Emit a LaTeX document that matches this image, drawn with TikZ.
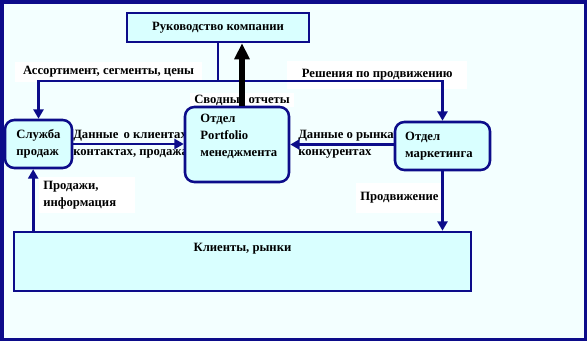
\documentclass[tikz,border=0pt]{standalone}
\usepackage{fontspec}
\setmainfont{Liberation Serif}
\usepackage{xcolor}
\usepackage{tikz}
\usetikzlibrary{positioning, arrows.meta}
\definecolor{framenavy}{HTML}{0C0C8A}
\definecolor{boxcyan}{HTML}{D9FFFF}
\definecolor{pagecyan}{HTML}{F3FFFF}

\begin{document}
\begin{tikzpicture}[x=0.75pt, y=-0.75pt,
    every node/.style={font=\fontsize{9.5}{12.5}\selectfont\bfseries},
    unitbox/.style={draw=framenavy, fill=boxcyan, line width=1.9pt, inner sep=0pt},
    roundbox/.style={unitbox, rounded corners=7pt},
    flow/.style={draw=framenavy, line width=2.2pt, -{Triangle[length=7pt, width=7.5pt]}},
    report/.style={draw=black, line width=3.8pt, -{Triangle[length=12pt, width=11pt]}},
    flowlabel/.style={fill=white, inner xsep=3pt, inner ysep=3pt, align=left, anchor=west}]
  \useasboundingbox (0,0) rectangle (588,342);
  \draw[framenavy, fill=pagecyan, line width=2.6pt] (2,2) rectangle (585.5,339.5);

  % labels
  \node[flowlabel, minimum width=140pt] (lblrange) at (15,72) {Ассортимент, сегменты, цены};
  \node[flowlabel, minimum width=135pt, minimum height=21pt] (lblpromo) at (287,75) {Решения по продвижению};
  \node[flowlabel, inner ysep=1pt] (lblreport) at (190,100) {Сводные отчеты};
  \node[anchor=west, align=left, inner sep=0pt] (lblclient) at (73,144.5) {Данные\, о клиентах,\\контактах, продажах};
  \node[anchor=west, align=left, inner sep=0pt] (lblmarket) at (298,144.5) {Данные о рынках,\\конкурентах};
  \node[flowlabel, minimum height=26pt, text width=66pt] (lblsold) at (39,195) {Продажи,\\информация};
  \node[flowlabel, minimum height=22pt] (lblpush) at (356,198) {Продвижение};

  % units
  \node[unitbox, minimum width=136.5pt, minimum height=21.75pt] (board) at (218,27.5)
    {Руководство компании};
  \node[roundbox, minimum width=50.25pt, minimum height=36pt, align=left] (sales) at (38.5,144)
    {Служба\\продаж};
  \node[roundbox, minimum width=78pt, minimum height=56.25pt,
        label={[anchor=north west, align=left, xshift=9pt, yshift=-3pt]north west:{Отдел\\Portfolio\\менеджмента}}]
    (portfolio) at (237,144.5) {};
  \node[roundbox, minimum width=71.25pt, minimum height=36pt, align=left, text width=56pt] (marketing) at (442.5,146)
    {Отдел\\маркетинга};
  \node[unitbox, minimum width=342.75pt, minimum height=44.25pt,
        label={[anchor=north, yshift=-6pt]north:{Клиенты, рынки}}]
    (clients) at (242.5,261.5) {};

  % connectors
  \coordinate (split) at (218,81);
  \draw[flow] (board.south) -- (split) -| (sales.north);
  \draw[flow] (split) -| (marketing.north);
  \draw[report] ([xshift=3.75pt]portfolio.north) -- ([xshift=3.75pt]portfolio.north |- board.south);
  \draw[flow] (sales.east) -- (portfolio.west |- sales.east);
  \draw[flow] (marketing.west |- portfolio.east) -- (portfolio.east);
  \draw[flow] ([xshift=-4pt]sales.south |- clients.north) -- ([xshift=-4pt]sales.south);
  \draw[flow] (marketing.south) -- (marketing.south |- clients.north);
\end{tikzpicture}
\end{document}
